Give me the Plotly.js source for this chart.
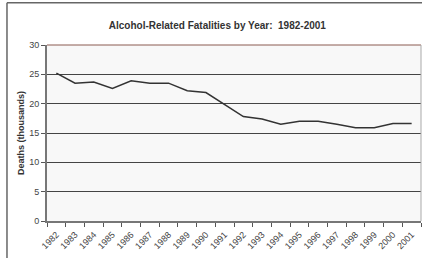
<!DOCTYPE html>
<html>
<head>
<meta charset="utf-8">
<script src="https://cdn.plot.ly/plotly-3.0.1.min.js"></script>
<style>html,body{margin:0;padding:0;background:#fff;}#chart{width:422px;height:258px;}</style>
</head>
<body>
<div id="chart"></div>
<script>
const years = ["1982","1983","1984","1985","1986","1987","1988","1989","1990","1991",
               "1992","1993","1994","1995","1996","1997","1998","1999","2000","2001"];
const deaths = [25.2, 23.5, 23.7, 22.6, 23.9, 23.5, 23.5, 22.2, 21.9, 19.8,
                17.8, 17.4, 16.5, 17.0, 17.0, 16.5, 15.9, 15.9, 16.6, 16.6];
const yTicks = [0, 5, 10, 15, 20, 25, 30];

const trace = {
  x: years, y: deaths, type: 'scatter', mode: 'lines',
  line: {color: '#333333', width: 1.5}, hoverinfo: 'skip'
};

const layout = {
  width: 422, height: 258,
  margin: {l: 47, r: 1, t: 45, b: 37, pad: 0},
  paper_bgcolor: '#ffffff', plot_bgcolor: '#f8f8f8',
  font: {family: 'Liberation Sans, Arial, sans-serif', size: 9, color: '#333'},
  showlegend: false,
  title: {text: '<b>Alcohol-Related Fatalities by Year:  1982-2001</b>',
          font: {size: 10, color: '#333'}, x: 0.515, xanchor: 'center', y: 0.9, yanchor: 'middle'},
  xaxis: {
    type: 'category', tickson: 'boundaries', range: [-0.5, 19.5],
    tickangle: -45, ticks: 'outside', ticklen: 4, tickcolor: '#555', tickwidth: 1,
    ticklabelstandoff: 3,
    showline: true, linecolor: '#777', linewidth: 2, showgrid: false, zeroline: false,
    tickfont: {size: 9, color: '#444'}, fixedrange: true
  },
  yaxis: {
    range: [0, 30], tickvals: yTicks, ticktext: yTicks.map(String),
    ticks: 'outside', ticklen: 4, tickcolor: '#555', tickwidth: 1,
    showline: true, linecolor: '#777', linewidth: 2,
    showgrid: true, gridcolor: '#444', gridwidth: 1, zeroline: false,
    tickfont: {size: 9, color: '#444'},
    title: {text: '<b>Deaths (thousands)</b>', font: {size: 9, color: '#333'}, standoff: 3},
    fixedrange: true
  },
  shapes: [
    {type: 'line', xref: 'paper', yref: 'paper', x0: -0.107, x1: -0.107, y0: 1.24, y1: -0.3, line: {color: '#666', width: 1.5}},
    {type: 'line', xref: 'paper', yref: 'paper', x0: -0.107, x1: 1.01, y0: 1.24, y1: 1.24, line: {color: '#666', width: 1.5}},
    {type: 'line', xref: 'paper', yref: 'paper', x0: 0, x1: 1, y0: 1, y1: 1, line: {color: '#8a5a50', width: 1}},
    {type: 'line', xref: 'paper', yref: 'paper', x0: 1, x1: 1, y0: 0, y1: 1, line: {color: '#aaa', width: 1}}
  ]
};

Plotly.newPlot('chart', [trace], layout, {staticPlot: true, displayModeBar: false});
</script>
</body>
</html>
